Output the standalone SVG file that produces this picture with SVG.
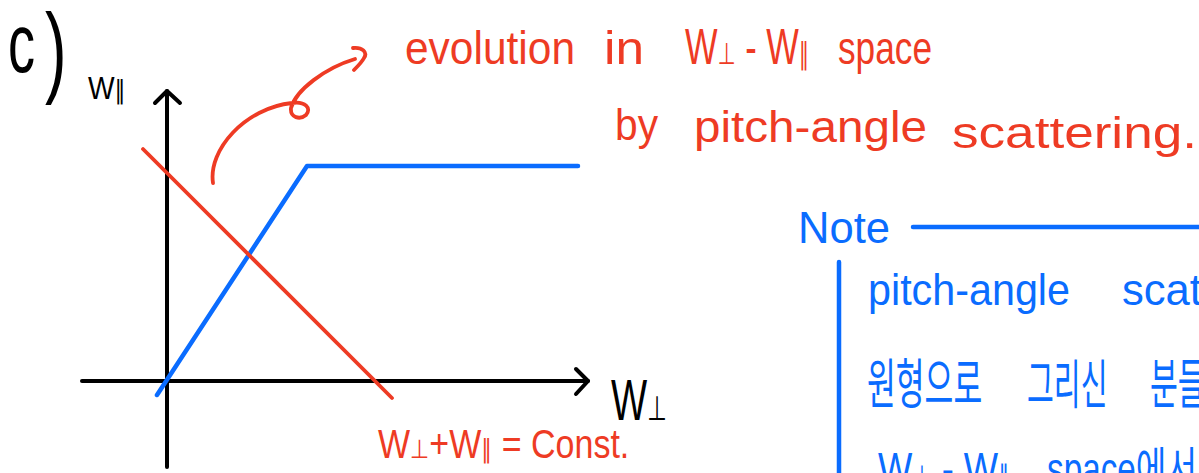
<svg xmlns="http://www.w3.org/2000/svg" width="1199" height="473" viewBox="0 0 1199 473">
<style>
.k{stroke:#000;stroke-width:4;fill:none;stroke-linecap:round;stroke-linejoin:round}
.b{stroke:#0A6CFF;stroke-width:4.5;fill:none;stroke-linecap:round;stroke-linejoin:round}
.r{stroke:#EE3B24;stroke-width:3.8;fill:none;stroke-linecap:round;stroke-linejoin:round}
text{font-family:"Liberation Sans","DejaVu Sans","Noto Sans CJK KR",sans-serif}
.tk{fill:#000}
.tr{fill:#EE3B24}
.tb{fill:#0A6CFF}
</style>
<defs>
<marker id="chev" markerUnits="userSpaceOnUse" markerWidth="30" markerHeight="30" refX="15" refY="15" orient="auto" overflow="visible">
<path d="M3,3 L15,15 L3,28" fill="none" stroke="#000" stroke-width="4" stroke-linecap="round" stroke-linejoin="round"/>
</marker>
</defs>
<rect width="1199" height="473" fill="#fff"/>

<g id="label-c">
<text class="tk" transform="translate(8,72) scale(0.9,1.4)" x="0" y="0" font-size="60">c<tspan x="41" y="8.6" font-size="72">)</tspan></text>
</g>

<g id="connectors">
<path id="axis-par" class="k" d="M167,467 V91" marker-end="url(#chev)"/>
<path id="axis-perp" class="k" d="M82,381 H588" marker-end="url(#chev)"/>
<path id="blue-curve" class="b" d="M157,395 L307,166 H578"/>
<path id="red-line" class="r" d="M143,149 L392,398"/>
<path id="red-arrow" class="r" d="M213,183 C208,150 245,108 292,103 C305,101 312,108 306,115 C300,120 290,118 291,108 C296,90 325,68 355,59 M353,48 C362,47 368,52 364,58 C362,62 358,66 354,70"/>
<path id="note-line" class="b" d="M913,227 H1199 M839,262 V473"/>
</g>

<g id="axis-labels">
<text class="tk" transform="translate(88,99) scale(0.88,1)" font-size="32">W<tspan font-size="26">∥</tspan></text>
<text class="tk" transform="translate(611,420) scale(0.66,1)" font-size="58">W<tspan font-size="34">⊥</tspan></text>
</g>

<g id="title">
<text class="tr" x="405" y="64" font-size="46" textLength="170" lengthAdjust="spacingAndGlyphs">evolution</text>
<text class="tr" x="604" y="64" font-size="46" textLength="40" lengthAdjust="spacingAndGlyphs">in</text>
<text class="tr" transform="translate(685,64) scale(0.69,1)" font-size="50">W<tspan font-size="30">⊥</tspan> - W<tspan font-size="30">∥</tspan></text>
<text class="tr" x="838" y="64" font-size="46" textLength="94" lengthAdjust="spacingAndGlyphs">space</text>
<text class="tr" x="615" y="140" font-size="44" textLength="43" lengthAdjust="spacingAndGlyphs">by</text>
<text class="tr" x="694" y="142" font-size="44" textLength="233" lengthAdjust="spacingAndGlyphs">pitch-angle</text>
<text class="tr" x="952" y="148" font-size="44" textLength="245" lengthAdjust="spacingAndGlyphs">scattering.</text>
</g>

<g id="const-label">
<text class="tr" transform="translate(378,458) scale(0.85,1)" font-size="40">W<tspan font-size="26">⊥</tspan>+W<tspan font-size="26">∥</tspan> = Const.</text>
</g>

<g id="note">
<text class="tb" x="798" y="243" font-size="45" textLength="92" lengthAdjust="spacingAndGlyphs">Note</text>
<text class="tb" x="868" y="305" font-size="44" textLength="202" lengthAdjust="spacingAndGlyphs">pitch-angle</text>
<text class="tb" x="1122" y="305" font-size="44" textLength="80" lengthAdjust="spacingAndGlyphs">scat</text>
<text class="tb" transform="translate(867,404) scale(0.58,1)" font-size="54">원형으로</text>
<text class="tb" transform="translate(1027,404) scale(0.54,1)" font-size="54">그리신</text>
<text class="tb" transform="translate(1150,404) scale(0.56,1)" font-size="54">분들</text>
<text class="tb" transform="translate(878,485) scale(0.79,1)" font-size="46">W<tspan font-size="28">⊥</tspan> - W<tspan font-size="28">∥</tspan></text>
<text class="tb" x="1047" y="485" font-size="46" textLength="150" lengthAdjust="spacingAndGlyphs">space에서</text>
</g>
</svg>
